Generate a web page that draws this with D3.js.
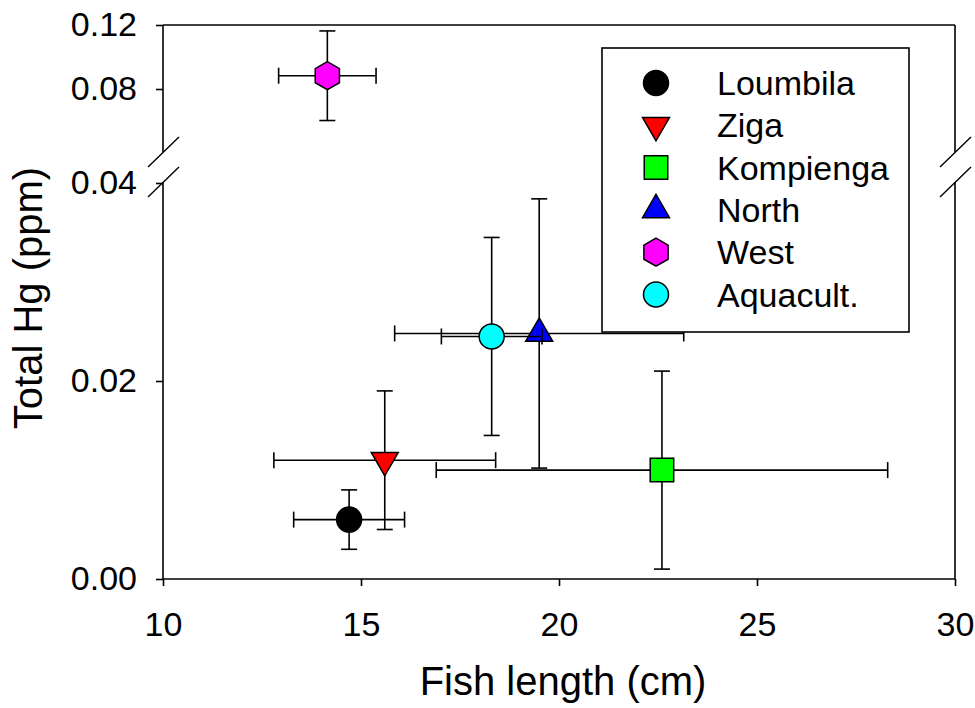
<!DOCTYPE html>
<html>
<head>
<meta charset="utf-8">
<script src="https://cdn.jsdelivr.net/npm/d3@7"></script>
<style>
  body { margin: 0; background: #fff; }
  svg text { font-family: "Liberation Sans", Arial, sans-serif; fill: #000; }
</style>
</head>
<body>
<div id="app"></div>
<script>
// values
const sites = ["Loumbila", "Ziga", "Kompienga", "North", "West", "Aquacult."]
const lengthMean = [14.7, 15.6, 22.6, 19.5, 14.15, 18.3]
const lengthErr = [1.4, 2.8, 5.7, 3.65, 1.23, 1.27]
const hgMean = [0.006, 0.012, 0.011, 0.0248, 0.0883, 0.0245]
const hgErr = [0.003, 0.007, 0.010, 0.0136, 0.028, 0.0100]
const colors = ["#000000", "#ff0000", "#00ff00", "#0000ff", "#ff00ff", "#00ffff"]
const shapes = ["circle", "triangleDown", "square", "triangleUp", "hexagon", "circle"]

const xTicks = [10, 15, 20, 25, 30]
const yTicksLow = [0, 0.02, 0.04]
const yTicksHigh = [0.08, 0.12]

const width = 975
const height = 708
const plotLeft = 163, plotRight = 955
const plotBottom = 579, lowTop = 182
const highBottom = 152, plotTop = 25

const x = d3.scaleLinear().domain([10, 30]).range([plotLeft, plotRight])
const yLow = d3.scaleLinear().domain([0, 0.04]).range([plotBottom, 183])
const yHigh = d3.scaleLinear().domain([0.04, 0.12]).range([153, plotTop])

// pick the segment of the broken axis
const yOf = v => v > 0.04 ? yHigh(v) : yLow(v)

const svg = d3.select('#app')
  .append('svg')
  .attr('width', width)
  .attr('height', height)

function symbolPath(shape) {
  if (shape === 'circle') return d3.symbol(d3.symbolCircle, 491)()
  if (shape === 'square') return d3.symbol(d3.symbolSquare, 552)()
  if (shape === 'triangleUp' || shape === 'triangleDown') return d3.symbol(d3.symbolTriangle, 315)()
  // pointy-top hexagon
  const r = 14
  const pts = d3.range(6).map(i => {
    const a = Math.PI / 3 * i - Math.PI / 2
    return [r * Math.cos(a), r * Math.sin(a)]
  })
  return 'M' + pts.join('L') + 'Z'
}

function drawSymbol(g, shape, fill, cx, cy) {
  g.append('path')
    .attr('d', symbolPath(shape))
    .attr('transform', 'translate(' + cx + ',' + cy + ')' + (shape === 'triangleDown' ? ' rotate(180)' : ''))
    .attr('fill', fill)
    .attr('stroke', '#000')
    .attr('stroke-width', 1.5)
}

// axes
const axisFont = 34

const gx = svg.append('g')
  .attr('transform', 'translate(0,' + plotBottom + ')')
  .call(d3.axisBottom(x).tickValues(xTicks).tickSize(7).tickSizeOuter(0).tickPadding(26).tickFormat(d3.format('d')))
gx.select('.domain').remove()

const gyLow = svg.append('g')
  .attr('transform', 'translate(' + plotLeft + ',0)')
  .call(d3.axisLeft(yLow).tickValues(yTicksLow).tickSize(7).tickSizeOuter(0).tickPadding(19).tickFormat(d3.format('.2f')))
gyLow.select('.domain').remove()

const gyHigh = svg.append('g')
  .attr('transform', 'translate(' + plotLeft + ',0)')
  .call(d3.axisLeft(yHigh).tickValues(yTicksHigh).tickSize(7).tickSizeOuter(0).tickPadding(19).tickFormat(d3.format('.2f')))
gyHigh.select('.domain').remove()

svg.selectAll('.tick line').attr('stroke', '#000').attr('stroke-width', 1.6)
svg.selectAll('.tick text').style('font-size', axisFont + 'px').attr('font-family', null)

// frame lines, broken on both sides
const frame = [
  [plotLeft, plotBottom, plotRight, plotBottom],
  [plotLeft, plotTop, plotRight, plotTop],
  [plotLeft, lowTop, plotLeft, plotBottom],
  [plotLeft, plotTop, plotLeft, highBottom],
  [plotRight, lowTop, plotRight, plotBottom],
  [plotRight, plotTop, plotRight, highBottom]
]
svg.append('g')
  .selectAll('line')
  .data(frame)
  .enter()
  .append('line')
  .attr('x1', d => d[0]).attr('y1', d => d[1])
  .attr('x2', d => d[2]).attr('y2', d => d[3])
  .attr('stroke', '#000')
  .attr('stroke-width', 1.6)

// break marks
const breaks = [[plotLeft, highBottom], [plotLeft, lowTop], [plotRight, highBottom], [plotRight, lowTop]]
svg.append('g')
  .selectAll('line')
  .data(breaks)
  .enter()
  .append('line')
  .attr('x1', d => d[0] - 15).attr('y1', d => d[1] + 15)
  .attr('x2', d => d[0] + 16).attr('y2', d => d[1] - 15)
  .attr('stroke', '#000')
  .attr('stroke-width', 1.4)

// points with error bars
const cap = 8
const points = svg.append('g')
sites.forEach((s, i) => {
  const g = points.append('g')
  const cx = x(lengthMean[i])
  const cy = yOf(hgMean[i])
  const y1 = yOf(hgMean[i] - hgErr[i])
  const y2 = yOf(hgMean[i] + hgErr[i])
  const x1 = x(lengthMean[i] - lengthErr[i])
  const x2 = x(lengthMean[i] + lengthErr[i])
  const segs = [
    [cx, y1, cx, y2], [cx - cap, y1, cx + cap, y1], [cx - cap, y2, cx + cap, y2],
    [x1, cy, x2, cy], [x1, cy - cap, x1, cy + cap], [x2, cy - cap, x2, cy + cap]
  ]
  g.selectAll('line')
    .data(segs)
    .enter()
    .append('line')
    .attr('x1', d => d[0]).attr('y1', d => d[1])
    .attr('x2', d => d[2]).attr('y2', d => d[3])
    .attr('stroke', '#000')
    .attr('stroke-width', 1.6)
  drawSymbol(g, shapes[i], colors[i], cx, cy)
})

// legend
const legend = svg.append('g')
legend.append('rect')
  .attr('x', 602).attr('y', 48)
  .attr('width', 307).attr('height', 284)
  .attr('fill', '#fff')
  .attr('stroke', '#000')
  .attr('stroke-width', 1.6)

sites.forEach((s, i) => {
  const baseY = 95 + i * 42.3
  drawSymbol(legend, shapes[i], colors[i], 656, baseY - 12)
  legend.append('text')
    .attr('x', 717)
    .attr('y', baseY)
    .style('font-size', '34px')
    .text(s)
})

// axis titles
svg.append('text')
  .attr('x', 563)
  .attr('y', 695)
  .attr('text-anchor', 'middle')
  .style('font-size', '40px')
  .text('Fish length (cm)')

svg.append('text')
  .attr('transform', 'translate(42,298) rotate(-90)')
  .attr('text-anchor', 'middle')
  .style('font-size', '40px')
  .text('Total Hg (ppm)')
</script>
</body>
</html>
